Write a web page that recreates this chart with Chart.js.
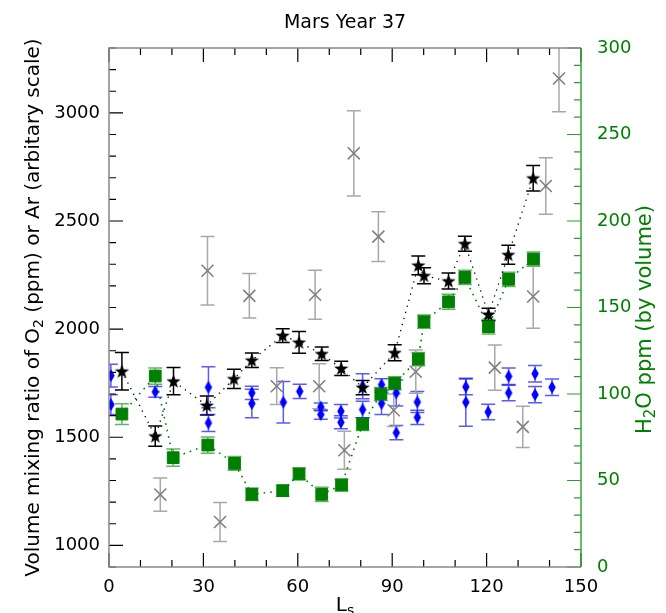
<!DOCTYPE html>
<html>
<head>
<meta charset="utf-8">
<script src="https://cdn.jsdelivr.net/npm/chart.js@4.4.1/dist/chart.umd.min.js"></script>
<style>
  html, body { margin: 0; padding: 0; background: #fff; }
</style>
</head>
<body>
<canvas id="chart" width="666" height="613"></canvas>
<script>
// black stars, O2 (left axis), joined by a dotted line
const o2Ls  = [4.1, 14.7, 20.5, 31.1, 39.7, 45.4, 55.2, 60.4, 67.6, 73.8, 80.6, 90.8, 98.3, 100.1, 107.9, 113.1, 120.6, 126.9, 134.8];
const o2Val = [1805, 1505, 1759, 1647, 1770, 1856, 1970, 1939, 1886, 1818, 1730, 1891, 2295, 2247, 2222, 2395, 2068, 2344, 2698];
const o2Err = [87, 47, 63, 44, 44, 34, 32, 50, 31, 33, 33, 37, 43, 37, 37, 35, 29, 44, 59];

// green squares, H2O (right axis), dotted line
const h2oLs  = [4.1, 14.7, 20.4, 31.4, 39.9, 45.4, 55.2, 60.4, 67.6, 73.9, 80.6, 86.4, 90.8, 98.3, 100.1, 107.9, 113.1, 120.6, 127.0, 134.9];
const h2oVal = [88.4, 110.4, 63.2, 70.5, 59.9, 42.0, 44.1, 53.8, 42.0, 47.4, 82.6, 100.0, 106.2, 120.2, 141.8, 153.3, 167.4, 138.9, 166.3, 178.0];
const h2oErr = [6.0, 4.7, 5.0, 4.7, 4.0, 3.6, 3.2, 3.4, 4.1, 3.4, 3.7, 3.7, 3.7, 3.8, 3.8, 4.3, 4.1, 4.2, 4.1, 4.1];

// blue thin diamonds (left axis)
const blueLs  = [0.6, 0.6, 14.7, 31.6, 31.6, 45.4, 45.4, 55.4, 60.6, 67.3, 67.3, 73.7, 73.7, 80.6, 80.6, 86.6, 86.6, 91.3, 91.3, 98.0, 98.0, 113.4, 113.4, 120.5, 127.0, 127.0, 135.4, 135.4, 140.8];
const blueVal = [1785, 1651, 1710, 1731, 1566, 1705, 1656, 1662, 1712, 1640, 1605, 1620, 1569, 1736, 1628, 1743, 1656, 1705, 1521, 1663, 1592, 1733, 1662, 1617, 1782, 1705, 1794, 1697, 1731];
const blueErr = [53, 46, 25, 95, 39, 31, 66, 96, 33, 18, 22, 31, 30, 58, 38, 27, 51, 60, 33, 49, 33, 36, 111, 36, 38, 36, 38, 38, 38];

// grey crosses, Ar (left axis)
const arLs  = [16.3, 31.3, 35.3, 44.6, 53.3, 65.5, 66.8, 74.8, 77.8, 85.6, 90.5, 97.5, 122.6, 131.5, 134.8, 138.8, 143.0];
const arVal = [1235, 2270, 1108, 2154, 1736, 2159, 1736, 1440, 2813, 2428, 1625, 1803, 1822, 1548, 2151, 2662, 3159];
const arErr = [77, 158, 90, 103, 85, 113, 104, 88, 197, 115, 75, 100, 105, 95, 147, 131, 154];

const xTicks  = [0, 30, 60, 90, 120, 150];
const yTicks  = [1000, 1500, 2000, 2500, 3000];
const y2Ticks = [0, 50, 100, 150, 200, 250, 300];

const FONT = "DejaVu Sans";
const GREEN = "#008000";

const pts = (xs, ys) => xs.map((x, i) => ({ x: x, y: ys[i] }));

// marker images
function starImg(r) {
  const c = document.createElement("canvas");
  const s = Math.ceil(r * 2 + 2);
  c.width = c.height = s;
  const g = c.getContext("2d");
  g.translate(s / 2, s / 2 + 0.5);
  g.beginPath();
  for (let i = 0; i < 10; i++) {
    const rr = i % 2 ? r * 0.4 : r;
    const a = -Math.PI / 2 + i * Math.PI / 5;
    g.lineTo(rr * Math.cos(a), rr * Math.sin(a));
  }
  g.closePath();
  g.fillStyle = "#000";
  g.fill();
  return c;
}
function diamondImg(w, h) {
  const c = document.createElement("canvas");
  c.width = Math.ceil(w + 2);
  c.height = Math.ceil(h + 2);
  const g = c.getContext("2d");
  g.translate(c.width / 2, c.height / 2);
  g.beginPath();
  g.moveTo(0, -h / 2);
  g.lineTo(w / 2, 0);
  g.lineTo(0, h / 2);
  g.lineTo(-w / 2, 0);
  g.closePath();
  g.fillStyle = "#0000ff";
  g.fill();
  return c;
}

const errorBars = {
  id: "errorBars",
  beforeDatasetsDraw(chart) {
    const { ctx, chartArea: a } = chart;
    ctx.save();
    ctx.beginPath();
    ctx.rect(a.left, a.top, a.right - a.left, a.bottom - a.top);
    ctx.clip();
    ctx.lineWidth = 1.5;
    chart.data.datasets.forEach((ds) => {
      if (!ds.errors) return;
      const xs = chart.scales.x;
      const ys = chart.scales[ds.yAxisID];
      ctx.strokeStyle = ds.errColor;
      ds.data.forEach((p, j) => {
        const px = xs.getPixelForValue(p.x);
        const top = ys.getPixelForValue(p.y + ds.errors[j]);
        const bot = ys.getPixelForValue(p.y - ds.errors[j]);
        ctx.beginPath();
        ctx.moveTo(px, top); ctx.lineTo(px, bot);
        ctx.moveTo(px - 7, top); ctx.lineTo(px + 7, top);
        ctx.moveTo(px - 7, bot); ctx.lineTo(px + 7, bot);
        ctx.stroke();
      });
    });
    ctx.restore();
  }
};

function drawRich(ctx, parts, x, y, rot, size, color) {
  ctx.save();
  ctx.translate(x, y);
  ctx.rotate(rot);
  ctx.fillStyle = color;
  ctx.textBaseline = "alphabetic";
  ctx.textAlign = "left";
  const big = size + "px '" + FONT + "'";
  const small = Math.round(size * 0.7) + "px '" + FONT + "'";
  let w = 0;
  parts.forEach((p) => { ctx.font = p.sub ? small : big; p.w = ctx.measureText(p.t).width; w += p.w; });
  let cx = -w / 2;
  parts.forEach((p) => {
    ctx.font = p.sub ? small : big;
    ctx.fillText(p.t, cx, p.sub ? size * 0.2 : 0);
    cx += p.w;
  });
  ctx.restore();
}

// inward ticks, spines and axis titles
const frame = {
  id: "frame",
  afterDraw(chart) {
    const { ctx, chartArea: a } = chart;
    const x = chart.scales.x, y = chart.scales.y, y2 = chart.scales.y2;
    ctx.save();
    ctx.lineWidth = 1.2;
    ctx.strokeStyle = "#000";
    ctx.beginPath();
    for (let v = 0; v <= 150; v += 10) {
      const px = x.getPixelForValue(v);
      const len = v % 30 === 0 ? 14 : 7;
      ctx.moveTo(px, a.bottom); ctx.lineTo(px, a.bottom - len);
      ctx.moveTo(px, a.top); ctx.lineTo(px, a.top + len);
    }
    for (let v = 900; v <= 3300; v += 100) {
      const py = y.getPixelForValue(v);
      const len = v % 500 === 0 ? 14 : 7;
      ctx.moveTo(a.left, py); ctx.lineTo(a.left + len, py);
    }
    ctx.stroke();
    ctx.strokeStyle = "#2f9a2f";
    ctx.beginPath();
    for (let v = 0; v <= 300; v += 10) {
      const py = y2.getPixelForValue(v);
      const len = v % 50 === 0 ? 14 : 7;
      ctx.moveTo(a.right, py); ctx.lineTo(a.right - len, py);
    }
    ctx.stroke();

    ctx.lineWidth = 1.5;
    ctx.strokeStyle = "#888";
    ctx.beginPath();
    ctx.moveTo(a.right, a.top); ctx.lineTo(a.left, a.top);
    ctx.lineTo(a.left, a.bottom); ctx.lineTo(a.right, a.bottom);
    ctx.stroke();
    ctx.strokeStyle = "#3aa33a";
    ctx.beginPath();
    ctx.moveTo(a.right, a.top); ctx.lineTo(a.right, a.bottom);
    ctx.stroke();

    const midY = (a.top + a.bottom) / 2;
    drawRich(ctx, [{ t: "Volume mixing ratio of O" }, { t: "2", sub: true }, { t: " (ppm) or Ar (arbitary scale)" }],
      39, midY, -Math.PI / 2, 20, "#000");
    drawRich(ctx, [{ t: "H" }, { t: "2", sub: true }, { t: "O ppm (by volume)" }],
      651, midY + 12, -Math.PI / 2, 21, GREEN);
    drawRich(ctx, [{ t: "L" }, { t: "s", sub: true }], (a.left + a.right) / 2, 611, 0, 20, "#000");
    ctx.restore();
  }
};

const tickFont = { family: FONT, size: 18 };
const fixTicks = (arr) => (axis) => { axis.ticks = arr.map((v) => ({ value: v })); };
const plain = (v) => String(v);

new Chart(document.getElementById("chart"), {
  type: "scatter",
  data: {
    datasets: [
      {
        label: "H2O",
        data: pts(h2oLs, h2oVal),
        errors: h2oErr,
        errColor: "rgba(0,128,0,0.6)",
        yAxisID: "y2",
        showLine: true,
        borderColor: GREEN,
        borderWidth: 1.6,
        borderDash: [1.6, 5],
        pointStyle: "rect",
        pointRadius: 8.3,
        pointBackgroundColor: GREEN,
        pointBorderColor: GREEN,
        pointBorderWidth: 1,
        order: 1,
      },
      {
        label: "O2",
        data: pts(o2Ls, o2Val),
        errors: o2Err,
        errColor: "#000",
        yAxisID: "y",
        showLine: true,
        borderColor: "#000",
        borderWidth: 1.3,
        borderDash: [1.3, 5],
        pointStyle: starImg(7.5),
        order: 2,
      },
      {
        label: "O2 (2)",
        data: pts(blueLs, blueVal),
        errors: blueErr,
        errColor: "rgba(0,0,255,0.65)",
        yAxisID: "y",
        pointStyle: diamondImg(7.5, 13),
        order: 3,
      },
      {
        label: "Ar",
        data: pts(arLs, arVal),
        errors: arErr,
        errColor: "#a8a8a8",
        yAxisID: "y",
        pointStyle: "crossRot",
        pointRadius: 8.5,
        pointBorderColor: "#808080",
        pointBorderWidth: 1.6,
        order: 4,
      },
    ],
  },
  options: {
    responsive: false,
    animation: false,
    layout: { padding: 0 },
    plugins: {
      legend: { display: false },
      tooltip: { enabled: false },
      title: {
        display: true,
        text: "Mars Year 37",
        color: "#000",
        fullSize: false,
        font: { family: FONT, size: 19, weight: "normal" },
        padding: { top: 12, bottom: 13.2 },
      },
    },
    scales: {
      x: {
        type: "linear",
        min: 0,
        max: 150,
        afterBuildTicks: fixTicks(xTicks),
        afterFit: (axis) => { axis.height = 46; },
        grid: { display: false, drawTicks: false },
        border: { display: false },
        ticks: { color: "#000", font: tickFont, padding: 10, maxRotation: 0, callback: plain },
      },
      y: {
        position: "left",
        min: 900,
        max: 3300,
        afterBuildTicks: fixTicks(yTicks),
        afterFit: (axis) => { axis.width = 109; },
        grid: { display: false, drawTicks: false },
        border: { display: false },
        ticks: { color: "#000", font: tickFont, padding: 9, callback: plain },
      },
      y2: {
        position: "right",
        min: 0,
        max: 300,
        afterBuildTicks: fixTicks(y2Ticks),
        afterFit: (axis) => { axis.width = 85; },
        grid: { display: false, drawTicks: false },
        border: { display: false },
        ticks: { color: GREEN, font: tickFont, padding: 16, callback: plain },
      },
    },
  },
  plugins: [errorBars, frame],
});
</script>
</body>
</html>
